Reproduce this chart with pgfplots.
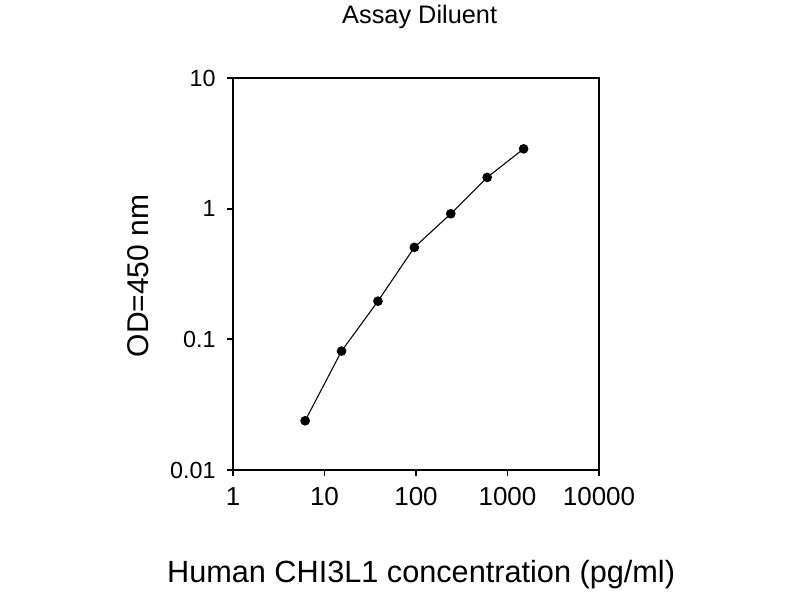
\documentclass[border=0pt]{standalone}
\usepackage{fontspec}
\setmainfont{Liberation Sans}
\usepackage{pgfplots}
\pgfplotsset{compat=1.18}

\begin{document}
\begin{tikzpicture}
\path[use as bounding box] (0,0) rectangle (600pt,450pt);
\begin{axis}[
    at={(174.75pt,97.5pt)}, anchor=south west,
    scale only axis,
    width=274.5pt, height=294pt,
    clip=false,
    xmode=log, ymode=log,
    xmin=1, xmax=10000,
    ymin=0.01, ymax=10,
    xtick={1,10,100,1000,10000},
    xticklabels={1,10,100,1000,10000},
    ytick={0.01,0.1,1,10},
    yticklabels={0.01,0.1,1,10},
    minor tick length=0pt,
    tick pos=left,
    tick align=outside,
    major tick length=4.5pt,
    xticklabel shift=5pt,
    yticklabel shift=5pt,
    axis line style={line width=1.3pt},
    every tick/.style={black, line width=1.3pt},
    /pgf/number format/assume math mode=true,
    xticklabel style={font=\fontsize{19.5}{22}\selectfont},
    yticklabel style={font=\fontsize{17.5}{20}\selectfont},
    xlabel={Human CHI3L1 concentration (pg/ml)},
    xlabel style={font=\fontsize{23}{26}\selectfont, at={(rel axis cs:0.514,-0.288)}, anchor=base},
    ylabel={OD=450 nm},
    ylabel style={font=\fontsize{22.5}{25}\selectfont, at={(rel axis cs:-0.26,0.495)}, anchor=center, rotate=0},
]
\addplot[black, line width=0.8pt, mark=*, mark size=3.2pt] coordinates {
    (6.14,0.0238)
    (15.36,0.0813)
    (38.4,0.196)
    (96,0.506)
    (240,0.914)
    (600,1.735)
    (1500,2.87)
};
\node[anchor=base, font=\fontsize{19}{22}\selectfont] at (rel axis cs:0.51,1.138) {Assay Diluent};
\end{axis}
\end{tikzpicture}
\end{document}
